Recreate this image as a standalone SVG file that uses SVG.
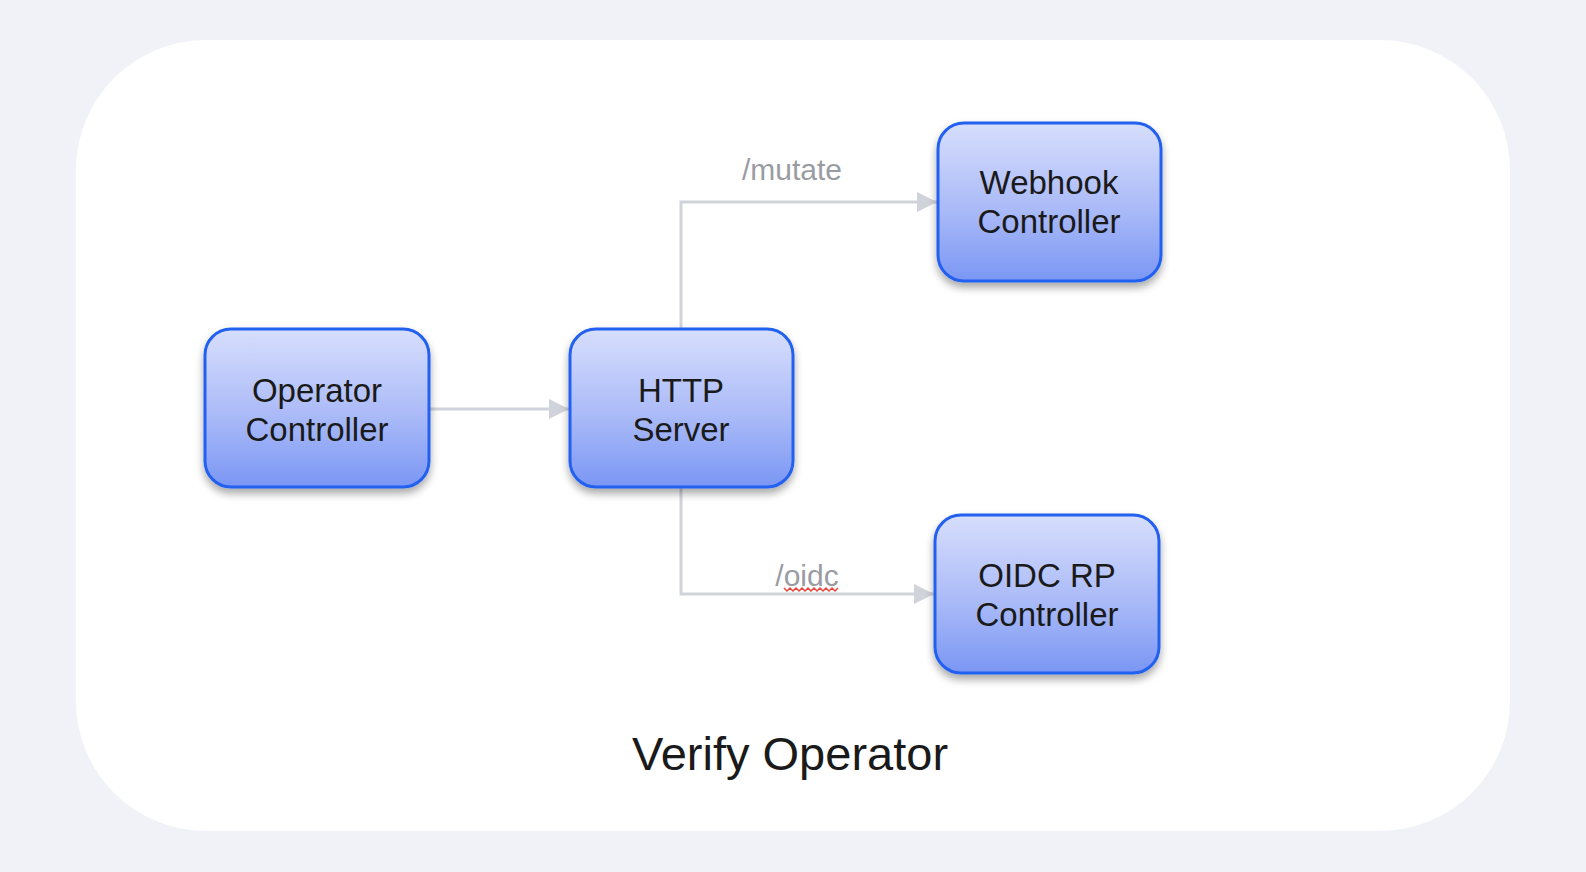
<svg xmlns="http://www.w3.org/2000/svg" width="1586" height="872" viewBox="0 0 1586 872">
  <defs>
    <linearGradient id="boxGrad" x1="0" y1="0" x2="0" y2="1">
      <stop offset="0" stop-color="#d7defc"/>
      <stop offset="0.55" stop-color="#aabaf8"/>
      <stop offset="1" stop-color="#7b97f4"/>
    </linearGradient>
    <filter id="shadow" x="-20%" y="-20%" width="140%" height="150%">
      <feGaussianBlur in="SourceAlpha" stdDeviation="4"/>
      <feOffset dx="0" dy="5" result="blur"/>
      <feComponentTransfer><feFuncA type="linear" slope="0.35"/></feComponentTransfer>
      <feMerge><feMergeNode/><feMergeNode in="SourceGraphic"/></feMerge>
    </filter>
    <marker id="arrow" viewBox="0 0 20 20" refX="20" refY="10" markerWidth="20" markerHeight="20" markerUnits="userSpaceOnUse" orient="auto">
      <path d="M0,0 L20,10 L0,20 Z" fill="#d0d3da"/>
    </marker>
  </defs>
  <style>
    .box { fill: url(#boxGrad); stroke: #2360f0; stroke-width: 3; filter: url(#shadow); }
    .lbl { font-family: "Liberation Sans", Arial, sans-serif; font-size: 33px; fill: #1a1a1a; text-anchor: middle; }
    .edge { fill: none; stroke: #d0d3da; stroke-width: 3; }
    .elbl { font-family: "Liberation Sans", Arial, sans-serif; font-size: 30px; fill: #9a9ca3; text-anchor: middle; }
    .title { font-family: "Liberation Sans", Arial, sans-serif; font-size: 47px; fill: #1a1a1a; text-anchor: middle; }
  </style>
  <rect x="0" y="0" width="1586" height="872" fill="#f1f2f7"/>
  <rect id="panel" x="76" y="40" width="1434" height="791" rx="130" ry="130" fill="#ffffff"/>

  <g id="connectors">
    <line class="edge" x1="429" y1="409" x2="569" y2="409" marker-end="url(#arrow)"/>
    <polyline class="edge" points="681,328 681,202 937,202" marker-end="url(#arrow)"/>
    <polyline class="edge" points="681,487 681,594 934,594" marker-end="url(#arrow)"/>
    <text class="elbl" x="792" y="180">/mutate</text>
    <text class="elbl" x="807" y="586">/oidc</text>
    <polyline fill="none" stroke="#e8453c" stroke-width="1.5" points="784,588 787,591 790,588 793,591 796,588 799,591 802,588 805,591 808,588 811,591 814,588 817,591 820,588 823,591 826,588 829,591 832,588 835,591 838,588"/>
  </g>

  <g id="operator-controller">
    <rect class="box" x="205" y="329" width="224" height="158" rx="26" ry="26"/>
    <text class="lbl" x="317" y="402">Operator</text>
    <text class="lbl" x="317" y="441">Controller</text>
  </g>

  <g id="http-server">
    <rect class="box" x="570" y="329" width="223" height="158" rx="26" ry="26"/>
    <text class="lbl" x="681" y="402">HTTP</text>
    <text class="lbl" x="681" y="441">Server</text>
  </g>

  <g id="webhook-controller">
    <rect class="box" x="938" y="123" width="223" height="158" rx="26" ry="26"/>
    <text class="lbl" x="1049" y="194">Webhook</text>
    <text class="lbl" x="1049" y="233">Controller</text>
  </g>

  <g id="oidc-rp-controller">
    <rect class="box" x="935" y="515" width="224" height="158" rx="26" ry="26"/>
    <text class="lbl" x="1047" y="587">OIDC RP</text>
    <text class="lbl" x="1047" y="626">Controller</text>
  </g>

  <text class="title" x="790" y="770">Verify Operator</text>
</svg>
